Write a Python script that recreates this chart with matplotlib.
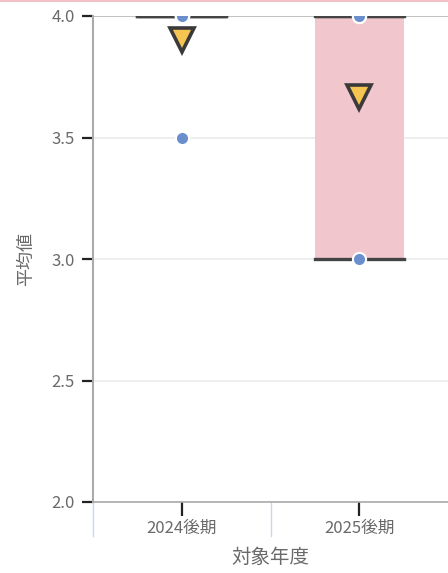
import numpy as np
import matplotlib.pyplot as plt
from matplotlib.lines import Line2D

plt.rcParams['font.family'] = ['Noto Sans CJK JP', 'DejaVu Sans']

# scores per term
categories = ["2024後期", "2025後期"]
values_2024 = [4.0, 4.0, 4.0, 4.0, 3.5]
values_2025 = [3.0, 4.0, 4.0]
series = [values_2024, values_2025]

y_ticks = [2.0, 2.5, 3.0, 3.5, 4.0]

box_color = "#f1c6cc"
line_color = "#444444"
dot_color = "#6a8fcc"
mean_color = "#f5c451"
text_color = "#6a6a6a"


def box_stats(vals):
    v = np.array(vals)
    q1 = np.percentile(v, 25, method="lower")
    q3 = np.percentile(v, 75, method="higher")
    iqr = q3 - q1
    inside = v[(v >= q1 - 1.5 * iqr) & (v <= q3 + 1.5 * iqr)]
    return dict(med=np.median(v), q1=q1, q3=q3,
                whislo=inside.min(), whishi=inside.max(),
                mean=v.mean(), fliers=[])


fig = plt.figure(figsize=(4.48, 5.73), dpi=100)
ax = fig.add_axes([93 / 448, 71 / 573, 355 / 448, 486 / 573])

stats = [box_stats(v) for v in series]
pos = np.arange(len(categories))

ax.bxp(stats, positions=pos, widths=0.5, patch_artist=True,
       showmeans=False, showcaps=True,
       boxprops=dict(facecolor=box_color, edgecolor="none"),
       medianprops=dict(color=line_color, linewidth=2.4),
       whiskerprops=dict(color="none"),
       capprops=dict(color=line_color, linewidth=2.4),
       capwidths=0.5, zorder=2)

for i, vals in enumerate(series):
    dots, = ax.plot([pos[i]] * len(vals), vals, "o", color=dot_color,
                    markersize=9.5, markeredgecolor="white",
                    markeredgewidth=1.5, zorder=3)
    dots.set_clip_path(ax.patch)
    ax.plot(pos[i], np.mean(vals), "v", color=mean_color, markersize=17,
            markeredgecolor="#3a3a3a", markeredgewidth=2.6, zorder=4)

ax.set_xlim(-0.5, 1.5)
ax.set_ylim(2.0, 4.0)
ax.set_yticks(y_ticks)
ax.set_yticklabels([f"{t:.1f}" for t in y_ticks])
ax.set_xticks(pos)
ax.set_xticklabels(categories)

ax.grid(axis="y", color="#ebebeb", linewidth=1.2, zorder=0)
ax.set_axisbelow(True)

for side in ["top", "right"]:
    ax.spines[side].set_visible(False)
ax.spines["left"].set_color("#aaaaaa")
ax.spines["left"].set_linewidth(1.5)
ax.spines["bottom"].set_color("#aaaaaa")
ax.spines["bottom"].set_linewidth(1.2)
ax.axhline(4.0, color="#bbbbbb", linewidth=1.2, zorder=1)

ax.tick_params(axis="y", length=8, width=1.6, color="#222222",
               labelcolor=text_color, labelsize=12, pad=5)
ax.tick_params(axis="x", length=10, width=1.6, color="#222222",
               labelcolor=text_color, labelsize=12, pad=3)

ax.set_xlabel("対象年度", color=text_color, fontsize=14, labelpad=7)
ax.set_ylabel("平均値", color=text_color, fontsize=13, labelpad=12)

# band separators under the x axis
for b in [-0.5, 0.5]:
    ax.add_line(Line2D([b, b], [-0.07, 0.0], transform=ax.get_xaxis_transform(),
                       color="#c8d8f0", linewidth=1.0, clip_on=False))

fig.add_artist(Line2D([0, 1], [0.9985, 0.9985], transform=fig.transFigure,
                      color="#f4c0c8", linewidth=1.5))

fig.savefig("out.png", dpi=100)
